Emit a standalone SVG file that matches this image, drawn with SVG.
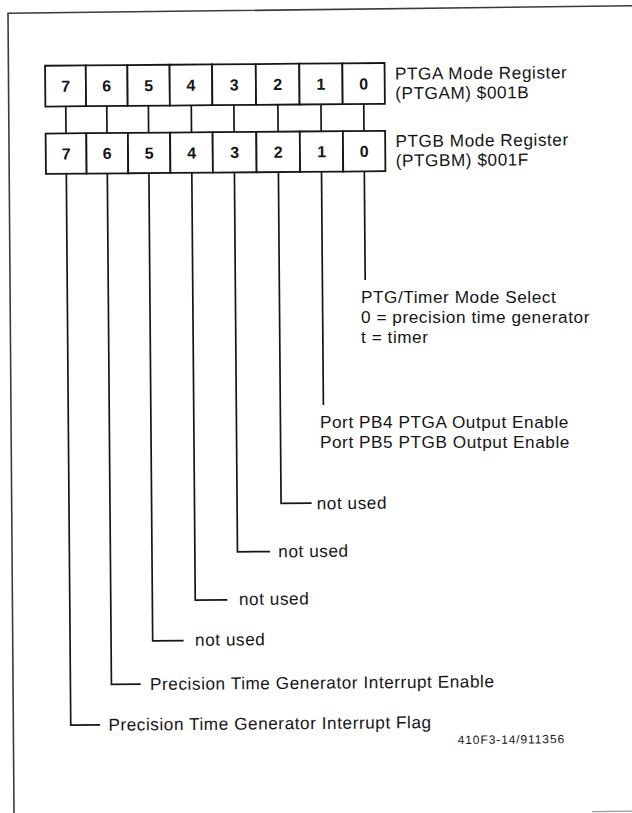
<svg xmlns="http://www.w3.org/2000/svg" width="632" height="813" viewBox="0 0 632 813">
<style>
.t{font-family:"Liberation Sans",Arial,Helvetica,sans-serif;font-size:17.2px;fill:#151515;letter-spacing:0.55px}
.d{font-family:"Liberation Sans",Arial,Helvetica,sans-serif;font-size:16px;font-weight:bold;fill:#151515;text-anchor:middle}
.code{font-family:"Liberation Sans",Arial,Helvetica,sans-serif;font-size:12px;fill:#151515;letter-spacing:0.9px}
.cell{fill:#ffffff;stroke:#161616;stroke-width:1.8}
.ln{fill:none;stroke:#161616;stroke-width:1.7}
.frame{fill:none;stroke:#3a3a3a;stroke-width:1.6}
</style>
<rect width="632" height="813" fill="#ffffff"/>
<g id="frame">
<path class="frame" d="M14 813 L8 13.3 L632 5.8"/>
<path d="M592 811.6 L632 811.2" stroke="#9a9a9a" stroke-width="1.2" fill="none"/>
</g>
<g transform="rotate(-0.46 200 120)">
<g id="reg-ptgam">
<rect class="cell" x="45.5" y="64.5" width="40.7" height="40.8"/>
<rect class="cell" x="86.2" y="64.5" width="41.6" height="40.8"/>
<rect class="cell" x="127.8" y="64.5" width="42.2" height="40.8"/>
<rect class="cell" x="170" y="64.5" width="42.5" height="40.8"/>
<rect class="cell" x="212.5" y="64.5" width="43.7" height="40.8"/>
<rect class="cell" x="256.2" y="64.5" width="43.5" height="40.8"/>
<rect class="cell" x="299.7" y="64.5" width="43.1" height="40.8"/>
<rect class="cell" x="342.8" y="64.5" width="42.2" height="40.8"/>
<text class="d" x="65.9" y="90.7">7</text>
<text class="d" x="107" y="90.7">6</text>
<text class="d" x="148.9" y="90.7">5</text>
<text class="d" x="191.3" y="90.7">4</text>
<text class="d" x="234.4" y="90.7">3</text>
<text class="d" x="278" y="90.7">2</text>
<text class="d" x="321.3" y="90.7">1</text>
<text class="d" x="363.9" y="90.7">0</text>
<text class="t" x="395.3" y="81.2">PTGA Mode Register</text>
<text class="t" x="395.3" y="100.7">(PTGAM) $001B</text>
</g>
<g id="reg-ptgbm">
<rect class="cell" x="45.5" y="132.3" width="40.7" height="40.4"/>
<rect class="cell" x="86.2" y="132.3" width="41.6" height="40.4"/>
<rect class="cell" x="127.8" y="132.3" width="42.2" height="40.4"/>
<rect class="cell" x="170" y="132.3" width="42.5" height="40.4"/>
<rect class="cell" x="212.5" y="132.3" width="43.7" height="40.4"/>
<rect class="cell" x="256.2" y="132.3" width="43.5" height="40.4"/>
<rect class="cell" x="299.7" y="132.3" width="43.1" height="40.4"/>
<rect class="cell" x="342.8" y="132.3" width="42.2" height="40.4"/>
<text class="d" x="65.9" y="158.3">7</text>
<text class="d" x="107" y="158.3">6</text>
<text class="d" x="148.9" y="158.3">5</text>
<text class="d" x="191.3" y="158.3">4</text>
<text class="d" x="234.4" y="158.3">3</text>
<text class="d" x="278" y="158.3">2</text>
<text class="d" x="321.3" y="158.3">1</text>
<text class="d" x="363.9" y="158.3">0</text>
<text class="t" x="395.3" y="148.5">PTGB Mode Register</text>
<text class="t" x="395.3" y="168">(PTGBM) $001F</text>
</g>
<g id="connectors">
<path class="ln" d="M65.9 105.3V132.3M106.9 105.3V132.3M148.5 105.3V132.3M191.4 105.3V132.3M234 105.3V132.3M278 105.3V132.3M321.1 105.3V132.3M363.9 105.3V132.3"/>
<path class="ln" d="M363.9 172.7V281.3"/>
<path class="ln" d="M321.1 172.7V406"/>
<path class="ln" d="M278 172.7V504.1H308.6"/>
<path class="ln" d="M234 172.7V552.1H266.5"/>
<path class="ln" d="M191.4 172.7V600.1H223.5"/>
<path class="ln" d="M148.5 172.7V640.4H179.5"/>
<path class="ln" d="M106.9 172.7V683.7H136.2"/>
<path class="ln" d="M65.9 172.7V724.1H95.2"/>
</g>
<g id="bit2-label"><text class="t" x="313.6" y="510.2">not used</text></g>
<g id="bit3-label"><text class="t" x="274.8" y="557.9">not used</text></g>
<g id="bit4-label"><text class="t" x="235.1" y="605.3">not used</text></g>
<g id="bit5-label"><text class="t" x="190.8" y="645.7">not used</text></g>
<g id="bit6-label"><text class="t" x="145.5" y="689.6">Precision Time Generator Interrupt Enable</text></g>
<g id="bit7-label"><text class="t" x="103.5" y="729.9">Precision Time Generator Interrupt Flag</text></g>
<g id="figure-code"><text class="code" x="452.7" y="746.1">410F3-14/911356</text></g>
</g>
<g id="bit0-label">
<text class="t" x="361" y="303.4">PTG/Timer Mode Select</text>
<text class="t" x="361" y="323">0 = precision time generator</text>
<text class="t" x="361" y="342.6">t = timer</text>
</g>
<g id="bit1-label">
<text class="t" x="320" y="428.2">Port PB4 PTGA Output Enable</text>
<text class="t" x="320" y="447.8">Port PB5 PTGB Output Enable</text>
</g>
</svg>
